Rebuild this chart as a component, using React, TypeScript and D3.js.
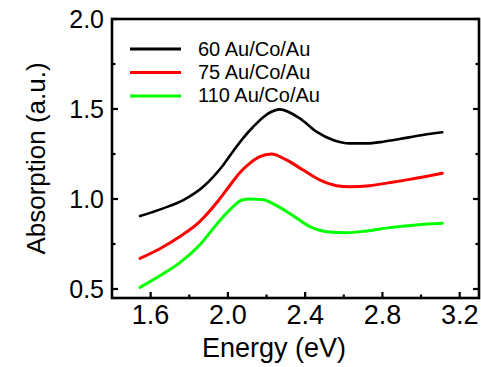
import * as d3 from 'd3'
import React from 'react'

const blackE = [1.545, 1.665, 1.769, 1.872, 1.976, 2.03, 2.08, 2.13, 2.18, 2.22, 2.268, 2.372, 2.458, 2.544, 2.63, 2.716, 2.803, 2.889, 2.975, 3.11]
const blackV = [0.905, 0.948, 0.994, 1.068, 1.189, 1.27, 1.34, 1.4, 1.452, 1.482, 1.498, 1.448, 1.374, 1.328, 1.309, 1.309, 1.318, 1.333, 1.35, 1.371]

const redE = [1.545, 1.65, 1.75, 1.85, 1.95, 2.01, 2.065, 2.113, 2.165, 2.225, 2.303, 2.389, 2.475, 2.562, 2.63, 2.734, 2.837, 2.941, 3.11]
const redV = [0.67, 0.725, 0.79, 0.87, 0.99, 1.075, 1.15, 1.198, 1.235, 1.25, 1.217, 1.161, 1.106, 1.074, 1.068, 1.074, 1.091, 1.109, 1.143]

const greenE = [1.545, 1.65, 1.75, 1.85, 1.95, 2.03, 2.07, 2.113, 2.183, 2.252, 2.338, 2.425, 2.511, 2.614, 2.716, 2.837, 2.975, 3.11]
const greenV = [0.509, 0.575, 0.645, 0.74, 0.87, 0.96, 0.993, 1.0, 0.996, 0.963, 0.907, 0.846, 0.818, 0.813, 0.822, 0.841, 0.856, 0.865]

const labels = ['60 Au/Co/Au', '75 Au/Co/Au', '110 Au/Co/Au']
const colors = ['#000000', '#ff0000', '#00ff00']

const xMajor = [1.6, 2.0, 2.4, 2.8, 3.2]
const xMinor = [1.8, 2.2, 2.6, 3.0]
const yMajor = [0.5, 1.0, 1.5, 2.0]
const yMinor = [0.75, 1.25, 1.75]

const W = 481, H = 367
const L = 112, R = 479, T = 19, B = 298
const font = "'Liberation Sans', Arial, sans-serif"

export default function App() {
  const
    x = d3.scaleLinear().domain([1.4, 3.3]).range([L, R]),
    y = d3.scaleLinear().domain([0.45, 2.0]).range([B, T]),
    ln = d3.line<[number, number]>()
      .x(d => x(d[0]))
      .y(d => y(d[1]))
      .curve(d3.curveMonotoneX),
    series = [
      d3.zip(blackE, blackV) as [number, number][],
      d3.zip(redE, redV) as [number, number][],
      d3.zip(greenE, greenV) as [number, number][],
    ]

  return (
    <svg width={W} height={H} style={{ position: 'absolute', left: 0, top: 0, background: '#fff' }} fontFamily={font}>
      {series.map((s, i) => (
        <path key={i} d={ln(s) as string} fill='none' stroke={colors[i]} strokeWidth={i === 0 ? 2.6 : 3} strokeLinejoin='round' strokeLinecap='round' />
      ))}

      {/* ticks point inward */}
      {xMajor.map(v => <line key={'xM' + v} x1={x(v)} x2={x(v)} y1={B} y2={B - 6} stroke='#000' strokeWidth={2.2} />)}
      {xMinor.map(v => <line key={'xm' + v} x1={x(v)} x2={x(v)} y1={B} y2={B - 3.5} stroke='#000' strokeWidth={2.2} />)}
      {yMajor.map(v => (
        <g key={'yM' + v}>
          <line x1={L} x2={L + 6} y1={y(v)} y2={y(v)} stroke='#000' strokeWidth={2.2} />
          <line x1={R} x2={R - 6} y1={y(v)} y2={y(v)} stroke='#000' strokeWidth={2.2} />
        </g>
      ))}
      {yMinor.map(v => (
        <g key={'ym' + v}>
          <line x1={L} x2={L + 3.5} y1={y(v)} y2={y(v)} stroke='#000' strokeWidth={2.2} />
          <line x1={R} x2={R - 3.5} y1={y(v)} y2={y(v)} stroke='#000' strokeWidth={2.2} />
        </g>
      ))}

      <rect x={L} y={T} width={R - L} height={B - T} fill='none' stroke='#000' strokeWidth={2.6} />

      {xMajor.map(v => (
        <text key={'xl' + v} x={x(v)} y={324} textAnchor='middle' fontSize={27}>{v.toFixed(1)}</text>
      ))}
      {yMajor.map(v => (
        <text key={'yl' + v} x={104} y={y(v) + 8.5} textAnchor='end' fontSize={25}>{v.toFixed(1)}</text>
      ))}

      <text x={274} y={357} textAnchor='middle' fontSize={27}>Energy (eV)</text>
      <text transform={`translate(45,${(T + B) / 2}) rotate(-90)`} textAnchor='middle' fontSize={26}>Absorption (a.u.)</text>

      {labels.map((t, i) => (
        <g key={t}>
          <line x1={130} x2={181} y1={49 + i * 23.5} y2={49 + i * 23.5} stroke={colors[i]} strokeWidth={3} />
          <text x={198} y={56 + i * 23} fontSize={20}>{t}</text>
        </g>
      ))}
    </svg>
  )
}
